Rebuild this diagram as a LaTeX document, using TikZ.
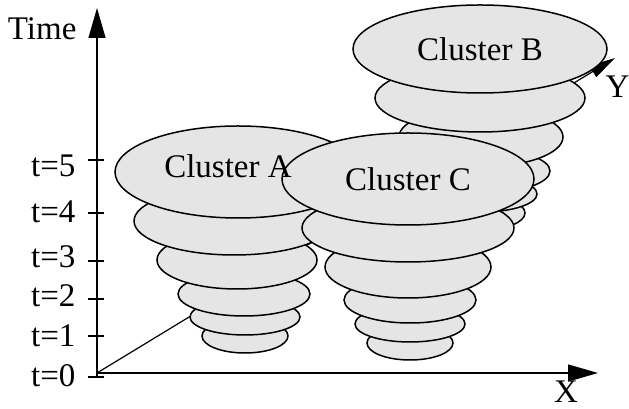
\documentclass[tikz,border=0pt]{standalone}
\usepackage{fontspec}
\setmainfont{Liberation Serif}
\usetikzlibrary{shapes.geometric,arrows.meta}

\begin{document}
\begin{tikzpicture}[x=1pt, y=1pt,
    font=\fontsize{33}{40}\selectfont,
    layer/.style={ellipse, draw, line width=1.5pt, fill=black!10, inner sep=0pt},
    axis/.style={line width=1.2pt, -{Triangle[length=30pt,width=17pt]}},
    tick/.style={line width=1.2pt}]

    \useasboundingbox (0,0) rectangle (629,409);

    % axes
    \coordinate (o) at (97,36);
    \coordinate (bottom) at (97,32);
    \coordinate (top) at (97,401);
    \coordinate (xend) at (598,36);
    \coordinate (yend) at (615,351);

    \draw[axis] (bottom) -- (top);
    \draw[axis] (o) -- (xend);
    \draw[line width=1.2pt, -{Triangle[length=26pt,width=13pt]}] (o) -- (yend);

    \node[anchor=base east] (time) at (80,369) {Time};
    \node[anchor=base] (xlab) at (566,6) {X};
    \node[anchor=base west] (ylab) at (602,311) {Y};

    % time ticks
    \draw[tick] (88,249) -- (104,249);
    \draw[tick] (88,196) -- (104,196);
    \draw[tick] (88,148) -- (104,148);
    \draw[tick] (88,110) -- (104,110);
    \draw[tick] (88,73) -- (104,73);
    \draw[tick] (88,32) -- (104,32);

    \node[anchor=base east] (t5) at (79,232) {t=5};
    \node[anchor=base east] (t4) at (79,186) {t=4};
    \node[anchor=base east] (t3) at (79,141) {t=3};
    \node[anchor=base east] (t2) at (79,102) {t=2};
    \node[anchor=base east] (t1) at (79,62) {t=1};
    \node[anchor=base east] (t0) at (79,22) {t=0};

    % cluster B (back)
    \node[layer, minimum width=86pt, minimum height=34pt] (b0) at (482,196) {};
    \node[layer, minimum width=110pt, minimum height=36pt] (b1) at (482,215) {};
    \node[layer, minimum width=132pt, minimum height=44pt] (b2) at (484,238) {};
    \node[layer, minimum width=164pt, minimum height=60pt] (b3) at (481,272) {};
    \node[layer, minimum width=210pt, minimum height=68pt] (b4) at (480,311) {};
    \node[layer, minimum width=254pt, minimum height=88pt] (b5) at (480,360) {Cluster B};

    % cluster A
    \node[layer, minimum width=86pt, minimum height=34pt] (a0) at (245,73) {};
    \node[layer, minimum width=110pt, minimum height=36pt] (a1) at (245,92) {};
    \node[layer, minimum width=132pt, minimum height=44pt] (a2) at (244,115) {};
    \node[layer, minimum width=160pt, minimum height=58pt] (a3) at (237,149) {};
    \node[layer, minimum width=200pt, minimum height=68pt] (a4) at (234,188) {};
    \node[layer, minimum width=246pt, minimum height=92pt] (a5) at (238,237) {};

    % cluster C (front)
    \node[layer, minimum width=86pt, minimum height=34pt] (c0) at (410,66) {};
    \node[layer, minimum width=110pt, minimum height=36pt] (c1) at (410,85) {};
    \node[layer, minimum width=132pt, minimum height=46pt] (c2) at (410,109) {};
    \node[layer, minimum width=166pt, minimum height=62pt] (c3) at (408,142) {};
    \node[layer, minimum width=212pt, minimum height=68pt] (c4) at (408,181) {};
    \node[layer, minimum width=252pt, minimum height=92pt] (c5) at (408,230) {Cluster C};

    % label of A sits over the edge of C
    \node[anchor=base] (labA) at (228,231) {Cluster A};

\end{tikzpicture}
\end{document}
